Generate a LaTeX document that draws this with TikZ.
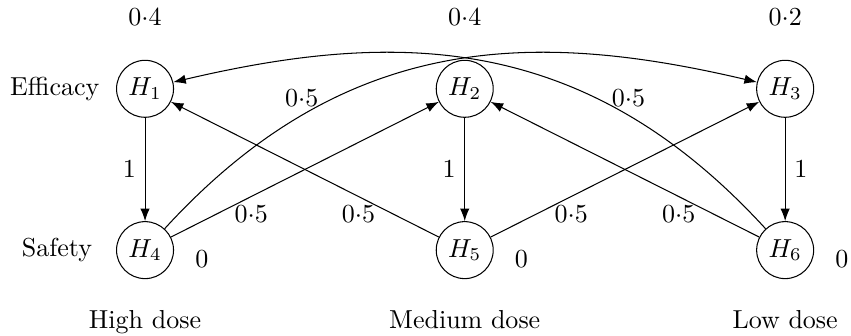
\documentclass[tikz,border=0pt]{standalone}
\usetikzlibrary{arrows.meta,positioning,calc}
\tikzset{
  hyp/.style={circle,draw,inner sep=1pt,minimum size=0.77cm},
  wgt/.style={inner sep=0.12cm},
  arr/.style={-Latex},
}

\begin{document}
\begin{tikzpicture}

  \useasboundingbox (-1.96,-1.15) rectangle (9.54,3.38);

  % hypotheses
  \node[hyp] (H1) at (0,2.18)    {$H_1$};
  \node[hyp] (H2) at (4.32,2.18) {$H_2$};
  \node[hyp] (H3) at (8.65,2.18) {$H_3$};
  \node[hyp] (H4) at (0,0)       {$H_4$};
  \node[hyp] (H5) at (4.32,0)    {$H_5$};
  \node[hyp] (H6) at (8.65,0)    {$H_6$};

  % initial weights
  \node[wgt,above=3.4mm of H1] (w1) {$0{\cdot}4$};
  \node[wgt,above=3.4mm of H2] (w2) {$0{\cdot}4$};
  \node[wgt,above=3.4mm of H3] (w3) {$0{\cdot}2$};
  \node[wgt,right=1.6mm of H4,yshift=-1.2mm] (w4) {$0$};
  \node[wgt,right=1.6mm of H5,yshift=-1.2mm] (w5) {$0$};
  \node[wgt,right=1.6mm of H6,yshift=-1.2mm] (w6) {$0$};

  % row and column labels
  \node[left=1mm of H1] (eff) {Efficacy};
  \node[left=2mm of H4] (saf) {Safety};
  \node[below=3mm of H4] (high) {High dose};
  \node[below=3mm of H5] (med)  {Medium dose};
  \node[below=3mm of H6] (low)  {Low dose};

  % transitions
  \draw[arr] (H1) -- node[left]  {$1$} (H4);
  \draw[arr] (H2) -- node[left]  {$1$} (H5);
  \draw[arr] (H3) -- node[right] {$1$} (H6);

  \draw[arr] (H4) -- node[pos=0.3,below] {$0{\cdot}5$} (H2);
  \draw[arr] (H5) -- node[pos=0.3,below] {$0{\cdot}5$} (H1);
  \draw[arr] (H5) -- node[pos=0.3,below] {$0{\cdot}5$} (H3);
  \draw[arr] (H6) -- node[pos=0.3,below] {$0{\cdot}5$} (H2);

  \draw[arr] (H4) .. controls ($(H4)+(2.7,2.95)$) and ($(H3)+(-3.4,0.8)$) ..
    node[pos=0.25,above] {$0{\cdot}5$} (H3);
  \draw[arr] (H6) .. controls ($(H6)+(-2.7,2.95)$) and ($(H1)+(3.4,0.8)$) ..
    node[pos=0.25,above] {$0{\cdot}5$} (H1);

\end{tikzpicture}
\end{document}
